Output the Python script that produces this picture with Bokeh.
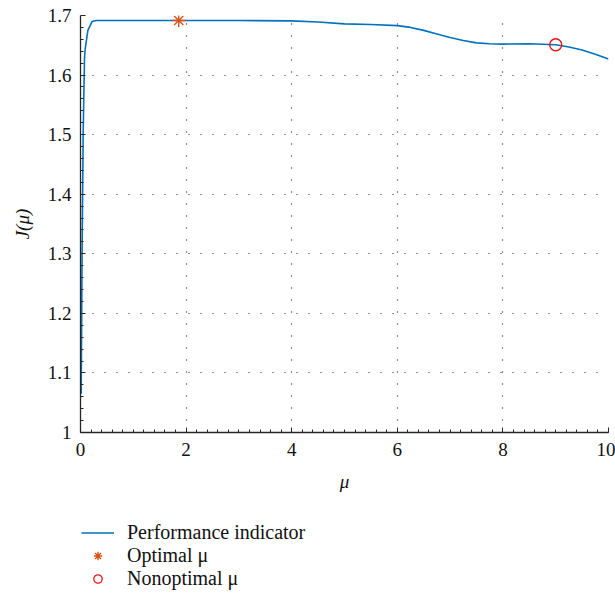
from bokeh.plotting import figure
from bokeh.models import Range1d, Legend, LegendItem, FixedTicker
from bokeh.layouts import column
from bokeh.embed import file_html
from bokeh.resources import INLINE

mu = [0.013, 0.03, 0.05, 0.076, 0.09, 0.14, 0.22, 0.3, 0.5, 1.0, 2.0, 3.0, 4.0,
      4.5, 5.0, 5.5, 6.0, 6.25, 6.5, 6.75, 7.0, 7.25, 7.5, 7.75, 8.0, 8.5, 9.0,
      9.25, 9.5, 9.75, 10.0]
J = [1.065, 1.30, 1.50, 1.63, 1.645, 1.675, 1.690, 1.6915, 1.6916, 1.6916, 1.6916,
     1.6915, 1.691, 1.689, 1.686, 1.685, 1.683, 1.680, 1.675, 1.669, 1.663, 1.658,
     1.654, 1.6525, 1.652, 1.6525, 1.651, 1.647, 1.642, 1.635, 1.627]
opt_mu = [1.86]
opt_J = [1.6916]
nonopt_mu = [9.0]
nonopt_J = [1.651]
xticks = [0, 2, 4, 6, 8, 10]
yticks = [1.0, 1.1, 1.2, 1.3, 1.4, 1.5, 1.6, 1.7]
labels = ["Performance indicator", "Optimal μ", "Nonoptimal μ"]

FONT = "Liberation Serif"
LINE_C = "#0072BD"
OPT_C = "#D95319"
NON_C = "#EE1111"

p = figure(width=615, height=500, output_backend="svg", toolbar_location=None,
           x_range=Range1d(0, 10), y_range=Range1d(1.0, 1.7),
           min_border_left=80, min_border_right=7, min_border_top=15,
           min_border_bottom=68)
p.outline_line_color = None

p.line(mu, J, line_color=LINE_C, line_width=1.6)
p.scatter(opt_mu, opt_J, marker="asterisk", size=13, line_color=OPT_C, line_width=1.4)
p.scatter(nonopt_mu, nonopt_J, marker="circle", size=12, fill_color=None,
          line_color=NON_C, line_width=1.4)

for ax in (p.xaxis, p.yaxis):
    ax.axis_line_color = "#262626"
    ax.axis_line_width = 1.3
    ax.major_tick_in = 5
    ax.major_tick_out = 0
    ax.minor_tick_in = 3
    ax.minor_tick_out = 0
    ax.major_tick_line_color = "#262626"
    ax.minor_tick_line_color = "#262626"
    ax.major_label_text_font = FONT
    ax.major_label_text_font_size = "19px"
    ax.major_label_text_color = "#111111"
    ax.axis_label_text_font = FONT
    ax.axis_label_text_font_size = "19px"
    ax.axis_label_text_font_style = "italic"
    ax.axis_label_text_color = "#111111"

p.xaxis.ticker = FixedTicker(ticks=xticks, minor_ticks=[i * 0.2 for i in range(51)])
p.yaxis.ticker = FixedTicker(ticks=yticks, minor_ticks=[1.0 + i * 0.02 for i in range(36)])
p.xaxis.axis_label = "μ"
p.yaxis.axis_label = "J(μ)"
p.xaxis.major_label_standoff = 10
p.xaxis.axis_label_standoff = 12
p.yaxis.major_label_standoff = 9
p.yaxis.axis_label_standoff = 12

for g in (p.xgrid, p.ygrid):
    g.grid_line_color = "#222222"
    g.grid_line_dash = "1 11"
    g.grid_line_width = 1.2
p.xgrid.ticker = FixedTicker(ticks=xticks)
p.ygrid.ticker = FixedTicker(ticks=yticks)

# legend panel below the chart (renderers carry only the key styles)
nan = float("nan")
q = figure(width=615, height=99, output_backend="svg", toolbar_location=None,
           x_range=Range1d(0, 1), y_range=Range1d(0, 1),
           min_border_left=0, min_border_right=0, min_border_top=0,
           min_border_bottom=0)
q.outline_line_color = None
q.axis.visible = False
q.grid.visible = False
r1 = q.line([nan], [nan], line_color=LINE_C, line_width=1.6)
r2 = q.scatter([nan], [nan], marker="asterisk", size=11, line_color=OPT_C, line_width=1.4)
r3 = q.scatter([nan], [nan], marker="circle", size=11, fill_color=None,
               line_color=NON_C, line_width=1.3)

legend = Legend(items=[LegendItem(label=t, renderers=[r]) for t, r in
                       zip(labels, [r1, r2, r3])],
                location=(1, 9), orientation="vertical")
legend.border_line_color = None
legend.background_fill_alpha = 0
legend.label_text_font = FONT
legend.label_text_font_size = "20px"
legend.label_text_color = "#111111"
legend.glyph_width = 33
legend.glyph_height = 21
legend.label_standoff = 13
legend.spacing = 0
legend.padding = 0
legend.margin = 0
legend.label_height = 21
q.add_layout(legend, "center")

layout = column(p, q, spacing=0)
open("out.html", "w").write(file_html(layout, INLINE))
